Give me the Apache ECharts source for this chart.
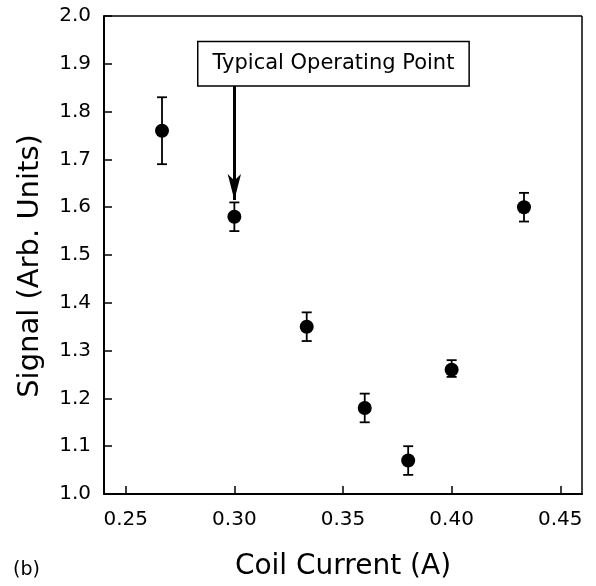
<!DOCTYPE html>
<html>
<head>
<meta charset="utf-8">
<script src="https://cdn.jsdelivr.net/npm/echarts@6/dist/echarts.min.js"></script>
<style>
  html, body { margin: 0; padding: 0; background: #fff; }
  #chart { width: 596px; height: 586px; }
</style>
</head>
<body>
<div id="chart"></div>
<script>
// data
const current = [0.2667, 0.30, 0.3333, 0.36, 0.38, 0.40, 0.4333]
const signal = [1.76, 1.58, 1.35, 1.18, 1.07, 1.26, 1.60]
const errLow = [1.69, 1.55, 1.32, 1.15, 1.04, 1.245, 1.57]
const errHigh = [1.83, 1.61, 1.38, 1.21, 1.10, 1.28, 1.63]
const xTicks = [0.25, 0.30, 0.35, 0.40, 0.45]

const annotText = 'Typical Operating Point'
const annotBox = [0.3456, 1.90]
const arrowFrom = [0.30, 1.854]
const arrowTo = [0.30, 1.615]

const font = 'DejaVu Sans, Liberation Sans, Arial, sans-serif'

const chart = echarts.init(document.getElementById('chart'))

const points = current.map((x, i) => [x, signal[i]])
const bars = current.map((x, i) => [x, errLow[i], errHigh[i]])

const option = {
  animation: false,
  backgroundColor: '#fff',
  grid: { left: 104, right: 14, top: 16, bottom: 91 },
  xAxis: {
    type: 'value',
    min: 0.24,
    max: 0.46,
    name: 'Coil Current (A)',
    nameLocation: 'middle',
    nameGap: 59,
    nameTextStyle: { fontFamily: font, fontSize: 28, color: '#000' },
    axisLine: { onZero: false, lineStyle: { color: '#000', width: 2 } },
    axisTick: { inside: true, length: 8, customValues: xTicks, lineStyle: { color: '#000', width: 1.5 } },
    axisLabel: {
      fontFamily: font, fontSize: 20, color: '#000', margin: 16,
      customValues: xTicks,
      formatter: v => v.toFixed(2)
    },
    splitLine: { show: false }
  },
  yAxis: {
    type: 'value',
    min: 1.0,
    max: 2.0,
    interval: 0.1,
    name: 'Signal (Arb. Units)',
    nameLocation: 'middle',
    nameGap: 59,
    nameTextStyle: { fontFamily: font, fontSize: 29, color: '#000', padding: [0, 22, 0, 0] },
    axisLine: { lineStyle: { color: '#000', width: 2 } },
    axisTick: { inside: true, length: 8, lineStyle: { color: '#000', width: 1.5 } },
    axisLabel: {
      fontFamily: font, fontSize: 20, color: '#000', margin: 13,
      formatter: v => v.toFixed(1)
    },
    splitLine: { show: false }
  },
  series: [
    {
      type: 'custom',
      data: bars,
      renderItem: (params, api) => {
        const x = api.value(0)
        const lo = api.coord([x, api.value(1)])
        const hi = api.coord([x, api.value(2)])
        const half = 5
        const style = { stroke: '#000', lineWidth: 1.8 }
        return {
          type: 'group',
          children: [
            { type: 'line', shape: { x1: lo[0], y1: lo[1], x2: hi[0], y2: hi[1] }, style },
            { type: 'line', shape: { x1: lo[0] - half, y1: lo[1], x2: lo[0] + half, y2: lo[1] }, style },
            { type: 'line', shape: { x1: hi[0] - half, y1: hi[1], x2: hi[0] + half, y2: hi[1] }, style }
          ]
        }
      },
      z: 2
    },
    {
      type: 'scatter',
      data: points,
      symbol: 'circle',
      symbolSize: 14,
      itemStyle: { color: '#000', opacity: 1 },
      z: 3,
      markLine: {
        silent: true,
        symbol: ['none', 'arrow'],
        symbolSize: [10, 26],
        lineStyle: { color: '#000', width: 3, type: 'solid', opacity: 1 },
        label: { show: false },
        data: [[{ coord: arrowFrom }, { coord: arrowTo }]]
      },
      markPoint: {
        silent: true,
        symbol: 'rect',
        symbolSize: 1,
        itemStyle: { color: 'transparent' },
        label: {
          show: true,
          position: 'inside',
          formatter: annotText,
          fontFamily: font,
          fontSize: 21,
          color: '#000',
          backgroundColor: '#fff',
          borderColor: '#000',
          borderWidth: 1.5,
          padding: [11, 14, 11, 14]
        },
        data: [{ coord: annotBox }]
      }
    }
  ],
  graphic: [
    {
      type: 'text',
      left: 13,
      top: 561,
      style: { text: '(b)', fontFamily: font, fontSize: 19, fill: '#000' }
    },
    {
      type: 'line',
      shape: { x1: 582, y1: 16, x2: 582, y2: 495 },
      style: { stroke: '#000', lineWidth: 1.5 }
    },
    {
      type: 'line',
      shape: { x1: 104, y1: 16, x2: 582, y2: 16 },
      style: { stroke: '#000', lineWidth: 1.5 }
    }
  ]
}

chart.setOption(option)
window.addEventListener('resize', () => chart.resize())
</script>
</body>
</html>
